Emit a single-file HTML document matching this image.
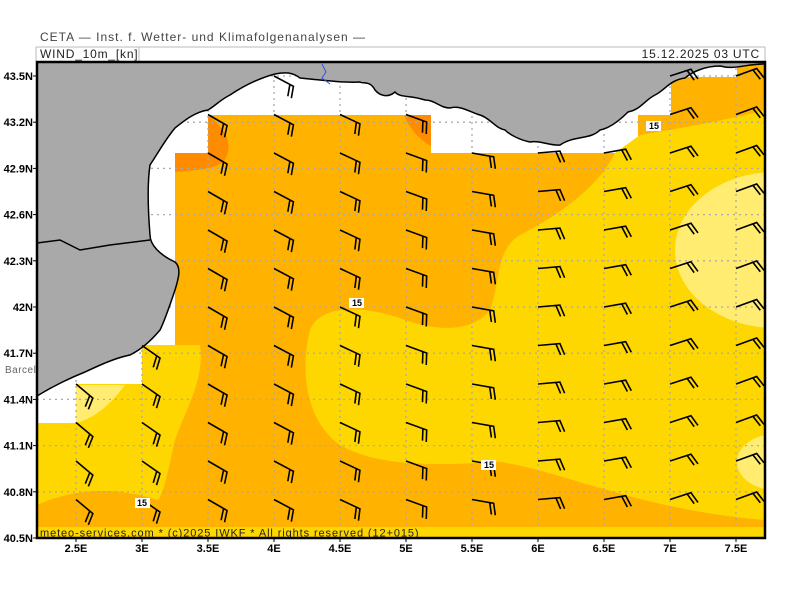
<!DOCTYPE html>
<html><head><meta charset="utf-8"><style>
body{margin:0;background:#fff;width:800px;height:600px;overflow:hidden;font-family:"Liberation Sans",sans-serif}
</style></head><body>
<svg id="s" width="800" height="600" viewBox="0 0 800 600" xmlns="http://www.w3.org/2000/svg">
<defs><clipPath id="pc"><rect x="37" y="62" width="728" height="476"/></clipPath></defs>
<text x="40" y="41" font-size="12" fill="#444" letter-spacing="1">CETA — Inst. f. Wetter- und Klimafolgenanalysen —</text>
<line x1="36" y1="47" x2="765" y2="47" stroke="#bbb"/>
<line x1="36" y1="47" x2="36" y2="61" stroke="#bbb"/>
<line x1="139" y1="47" x2="139" y2="61" stroke="#bbb"/>
<line x1="765" y1="47" x2="765" y2="61" stroke="#bbb"/>
<text x="40" y="58" font-size="12" fill="#222" letter-spacing="0.8">WIND_10m_[kn]</text>
<text x="760" y="58" font-size="12" fill="#222" text-anchor="end" letter-spacing="0.8">15.12.2025 03 UTC</text>
<text x="5" y="373" font-size="10" fill="#666" letter-spacing="0.5">Barcelona</text>
<g clip-path="url(#pc)">
<rect x="37" y="62" width="728" height="476" fill="#fff"/>
<path d="M208,115 H431 V153 H638 V115 H671 V77 H737 V62 H765 V538 H37 V423 H76 V384 H142 V345 H175 V153 H208 Z" fill="#FFB300"/>
<path d="M615,153 C600,185 560,215 520,235 C495,250 500,285 490,310 C470,335 430,330 400,318 C360,305 320,305 310,330 C300,370 305,420 340,445 C380,468 440,465 500,462 C560,470 640,510 765,520 V110 C720,122 680,128 640,135 Z" fill="#FFD700"/>
<path d="M638,115 H671 V77 H737 V62 H765 V100 C720,118 680,124 640,132 Z" fill="#FFB300"/>
<path d="M142,345 H200 C205,380 185,410 175,440 C168,470 165,490 158,500 C120,488 80,486 37,505 V423 H76 V384 H142 Z" fill="#FFD700"/>
<ellipse cx="775" cy="250" rx="100" ry="78" fill="#FFEC70"/>
<ellipse cx="775" cy="462" rx="38" ry="28" fill="#FFEC70"/>
<path d="M76,423 C95,418 110,405 125,385 H76 Z" fill="#FFEC70"/>
<path d="M208,115 C228,130 232,145 226,158 C220,170 195,170 175,172 V153 H208 Z" fill="#FF8C00"/>
<path d="M404,115 H431 V146 C420,140 410,130 404,115 Z" fill="#FF8C00"/>
<g id="grid" stroke="#aaa" stroke-dasharray="2,4" stroke-width="1.3"></g>
<path d="M37,62 H765 V64 C745,64 735,70 720,66 C705,66 692,72 685,78 C670,80 665,90 655,95 C645,100 640,110 628,112 C620,120 610,128 600,130 C590,140 575,135 560,145 C550,146 540,140 530,142 C520,140 510,135 505,130 C495,128 490,118 480,115 C470,112 460,105 450,108 C440,108 435,100 425,100 C410,95 400,98 395,92 C388,98 380,96 375,90 C370,80 362,84 360,82 C345,83 320,80 300,78 C292,72 285,72 275,74 C260,78 245,85 230,95 C220,100 215,106 208,110 C195,112 185,120 175,128 C165,140 160,150 150,165 C147,185 148,210 150,235 C150,245 160,255 175,262 C182,268 178,280 175,290 C170,305 165,320 160,330 C150,342 140,350 130,355 C115,358 100,365 85,372 C70,378 55,385 37,396 Z" fill="#A9A9A9" stroke="#000" stroke-width="1.5"/>
<path d="M37,243 L60,240 L80,250 L110,245 L150,240" fill="none" stroke="#000" stroke-width="1.5"/>
<path d="M322,64 L326,72 L322,78 L330,84" fill="none" stroke="#3355dd" stroke-width="1"/>
<g id="barbs" stroke="#000" stroke-width="1.6" fill="none"></g>
<rect x="37" y="527" width="728" height="11" fill="#FFD700"/>
<text x="40" y="536.5" font-size="11" fill="#222" letter-spacing="0.9">meteo-services.com * (c)2025 IWKF * All rights reserved (12+015)</text>
<g font-size="9" font-weight="bold" text-anchor="middle">
<rect x="349" y="298" width="15" height="10" fill="#fff"/><text x="357" y="306">15</text>
<rect x="646" y="121" width="15" height="10" fill="#fff"/><text x="654" y="129">15</text>
<rect x="481" y="460" width="15" height="10" fill="#fff"/><text x="489" y="468">15</text>
<rect x="135" y="498" width="15" height="10" fill="#fff"/><text x="142" y="506">15</text>
</g>
</g>
<rect x="37" y="62" width="728" height="476" fill="none" stroke="#000" stroke-width="2.5"/>
<g id="ax" font-size="11" font-weight="bold" fill="#000"></g>
</svg>
<script>
var NS="http://www.w3.org/2000/svg";
function el(p,t,a,txt){var e=document.createElementNS(NS,t);for(var k in a)e.setAttribute(k,a[k]);if(txt)e.textContent=txt;document.getElementById(p).appendChild(e);}
var xs=[],ys=[];
for(var i=0;i<11;i++)xs.push(76+66*i);
for(var j=0;j<11;j++)ys.push(538-46.2*j);
var lons=["2.5E","3E","3.5E","4E","4.5E","5E","5.5E","6E","6.5E","7E","7.5E"];
var lats=["40.5N","40.8N","41.1N","41.4N","41.7N","42N","42.3N","42.6N","42.9N","43.2N","43.5N"];
xs.forEach(function(x,i){el("grid","line",{x1:x,y1:62,x2:x,y2:538});el("ax","text",{x:x,y:552,"text-anchor":"middle"},lons[i]);el("ax","line",{x1:x,y1:538,x2:x,y2:542,stroke:"#000"});});
ys.forEach(function(y,j){if(j>0&&j<11)el("grid","line",{x1:37,y1:y,x2:765,y2:y});el("ax","text",{x:33,y:y+4,"text-anchor":"end"},lats[j]);el("ax","line",{x1:33,y1:y,x2:37,y2:y,stroke:"#000"});});
var ang=[40,35,30,28,25,20,10,-5,-10,-18,-20];
function cols(r){
 if(r==11)return [3,9,10];
 if(r==10)return [2,3,4,5,9,10];
 if(r>=5&&r<=9)return [2,3,4,5,6,7,8,9,10];
 if(r==4)return [1,2,3,4,5,6,7,8,9,10];
 return [0,1,2,3,4,5,6,7,8,9,10];
}
for(var r=0;r<12;r++){var y=499.5-38.5*r;cols(r).forEach(function(c){
 var x=xs[c],t=ang[c]*Math.PI/180,L=22;var ex=x+L*Math.cos(t),ey=y+L*Math.sin(t);
 var f=(ang[c]+72)*Math.PI/180,fl=12;
 var d="M"+x+","+y+"L"+ex+","+ey+"l"+fl*Math.cos(f)+","+fl*Math.sin(f);
 var bx=x+(L-4)*Math.cos(t),by=y+(L-4)*Math.sin(t);
 d+="M"+bx+","+by+"l"+fl*Math.cos(f)+","+fl*Math.sin(f);
 el("barbs","path",{d:d});
});}
</script>
</body></html>
